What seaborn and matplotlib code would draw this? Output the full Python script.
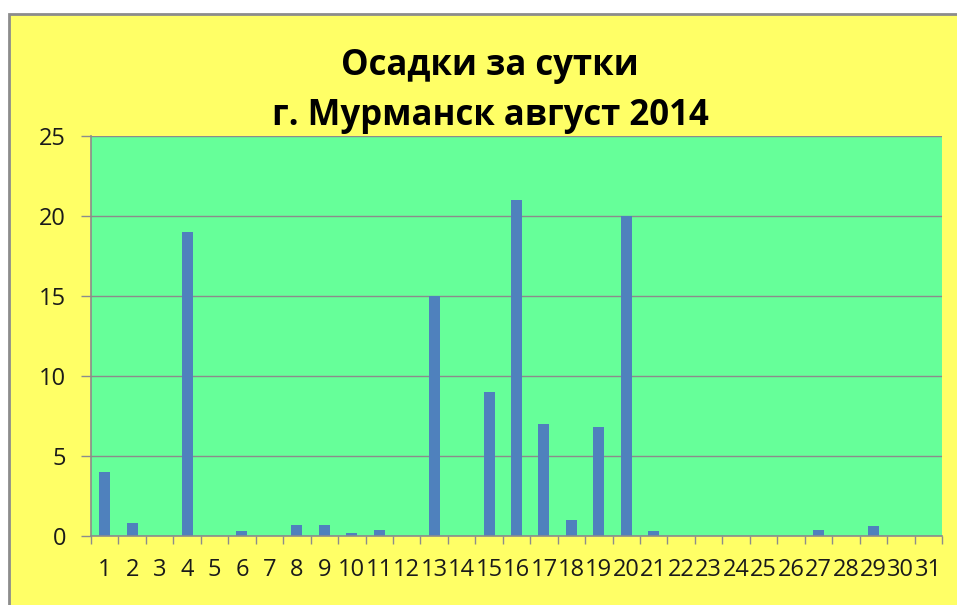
import matplotlib
matplotlib.use("Agg")
import matplotlib.pyplot as plt
import seaborn as sns
import pandas as pd
from matplotlib.patches import Rectangle
from matplotlib.ticker import FixedLocator

days = [str(d) for d in range(1, 32)]
precip = [4.0, 0.8, 0.0, 19.0, 0.0, 0.3, 0.0, 0.7, 0.7, 0.2,
          0.4, 0.0, 15.0, 0.0, 9.0, 21.0, 7.0, 1.0, 6.8, 20.0,
          0.3, 0.0, 0.0, 0.0, 0.0, 0.0, 0.4, 0.0, 0.6, 0.0, 0.0]
yticks = [0, 5, 10, 15, 20, 25]
title_lines = ["Осадки за сутки", "г. Мурманск август 2014"]

df = pd.DataFrame({"day": days, "mm": precip})

sns.set_theme(style="white")
plt.rcParams["font.family"] = ["Open Sans", "DejaVu Sans"]

W, H = 957, 605
fig = plt.figure(figsize=(W / 100, H / 100), dpi=100)
fig.patch.set_facecolor("white")

# yellow chart area with gray border
fig.patches.append(Rectangle((9 / W, -0.05), 1.2, (H - 14) / H + 0.05,
                             transform=fig.transFigure, facecolor="#FFFF66",
                             edgecolor="#8C8C8C", linewidth=2, zorder=-10))

left, right, top, bottom = 91, 942, 136, 536
ax = fig.add_axes([left / W, 1 - bottom / H, (right - left) / W, (bottom - top) / H])
ax.set_facecolor("#66FF99")

sns.barplot(data=df, x="day", y="mm", order=days, color="#4F81BD",
            width=0.4, saturation=1, linewidth=0, edgecolor="none",
            ax=ax, zorder=3)

ax.set_xlim(-0.5, len(days) - 0.5)
ax.set_ylim(0, 25)
ax.set_yticks(yticks)
ax.set_xlabel("")
ax.set_ylabel("")

gray = "#8C8C8C"
ax.grid(axis="y", color=gray, linewidth=1.0, zorder=1)
ax.set_axisbelow(True)
for s in ["top", "right"]:
    ax.spines[s].set_visible(False)
for s in ["left", "bottom"]:
    ax.spines[s].set_color(gray)
    ax.spines[s].set_linewidth(1.2)
    ax.spines[s].set_zorder(4)

ax.tick_params(axis="y", which="major", direction="out", length=7, width=1,
               color=gray, pad=11, labelsize=17, labelcolor="#1a1a1a", left=True)
ax.tick_params(axis="x", which="major", length=0, pad=16, labelsize=17,
               labelcolor="#1a1a1a", bottom=True)
ax.xaxis.set_minor_locator(FixedLocator([i - 0.5 for i in range(len(days) + 1)]))
ax.tick_params(axis="x", which="minor", direction="out", length=6, width=1,
               color=gray, bottom=True)

fig.text(490 / W, 1 - 75 / H, title_lines[0], ha="center", va="baseline",
         fontsize=25, fontweight="bold", color="black")
fig.text(490 / W, 1 - 125 / H, title_lines[1], ha="center", va="baseline",
         fontsize=25, fontweight="bold", color="black")

fig.savefig("out.png", dpi=100, facecolor=fig.get_facecolor())
